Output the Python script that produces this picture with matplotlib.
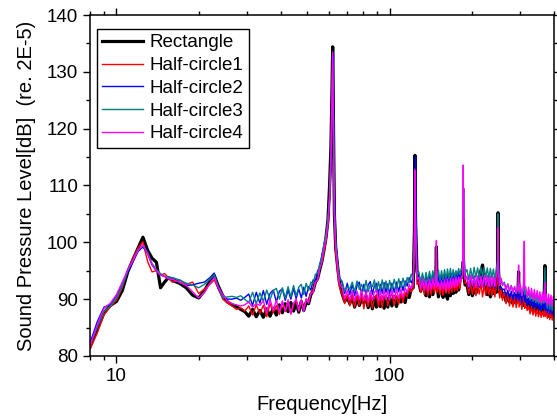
import matplotlib
matplotlib.use("Agg")
import matplotlib.pyplot as plt
from matplotlib.ticker import MultipleLocator, LogLocator, NullFormatter

plt.rcParams["font.family"] = ["Liberation Sans", "DejaVu Sans"]

freq = [
    8, 8.5, 9, 9.5, 10, 10.5, 11, 11.5, 12, 12.5, 13, 13.5, 14, 14.5, 15, 15.5, 16, 17, 18, 19, 20, 21, 22, 22.8, 23.5, 24.5, 25.5, 26.5, 27.5, 28.5, 29.5,
    30.5, 31.5, 32.5, 33.5, 34.5, 35.5, 36.5, 37.5, 38.5, 39.5, 40.5, 41.5, 42.5, 43.5, 44.5, 45.5, 46.5, 47.5, 48.5, 49.5, 50.5, 51.5, 52.5, 53.5, 54.5, 55.5, 56.5, 57.5,
    58.5, 59.5, 60.3, 61.0, 61.5, 61.9, 62.3, 62.8, 63.5, 64.5, 65.5,
    67, 68.5, 70, 71.5, 73, 74.5, 76, 77.5, 79, 80.5, 82, 83.5, 85, 86.5, 88, 89.5, 91, 92.5, 94, 95.5, 97, 98.5, 100, 102, 104, 106, 108, 110, 112, 114, 116, 118, 120,
    122, 123.3, 123.9, 124.5, 126,
    128, 130, 132, 134, 136, 138, 140, 142, 144, 146, 147.6, 148.4, 149.2, 151, 153, 155, 157, 159, 161, 163, 165, 167, 169, 171, 173, 175, 177, 179, 181, 183,
    185, 186.1, 186.7, 187.5, 189,
    192, 195, 198, 201, 204, 207, 210, 213, 216, 219, 222, 225, 228, 231, 234, 237, 240, 243, 246,
    248.6, 249.5, 250.6, 253, 256, 259,
    263, 267, 271, 275, 279, 283, 287, 291, 295, 296.8, 298, 301, 305, 309, 311.4, 312.6,
    315, 319, 323, 327, 331, 335, 339, 343, 347, 351, 355, 359, 363, 367, 370.6, 372,
    374, 378, 382, 386, 390, 394, 398, 400,
]

rectangle = [
    81.6, 84.8, 87.6, 88.9, 89.6, 91.5, 94.8, 97.0, 99.0, 100.9, 98.6, 97.2, 96.5, 92.0, 93.0, 93.8, 93.3, 92.8, 92.0, 90.7, 90.2, 91.5, 93.2, 94.2, 92.5, 90.6, 89.5, 89.0, 88.7, 88.2, 87.8,
    87.0, 88.2, 86.9, 88.0, 86.8, 88.3, 87.0, 88.4, 87.2, 89.0, 87.6, 89.2, 87.8, 89.4, 87.9, 89.3, 87.7, 89.6, 88.0, 89.4, 89.2, 90.8, 91.5, 93.0, 93.6, 95.2, 96.6, 98.6,
    100.8, 104.0, 110.0, 117.0, 126.0, 134.4, 121.0, 105.0, 99.0, 95.8, 93.0,
    91.0, 89.6, 90.3, 89.2, 90.6, 88.6, 90.4, 88.9, 90.1, 89.3, 90.6, 88.5, 90.2, 88.3, 90.3, 88.6, 90.6, 88.7, 90.4, 88.4, 90.3, 88.6, 90.5, 88.8, 90.5, 88.7, 90.3, 89.5, 90.6, 89.4, 91.2, 90.3, 91.8,
    92.0, 102.0, 115.3, 103.0, 95.0,
    93.0, 91.4, 92.6, 91.8, 90.6, 92.6, 90.4, 92.4, 90.8, 92.6, 93.0, 99.2, 92.5, 90.4, 91.8, 92.5, 90.3, 92.8, 90.8, 90.0, 92.6, 90.6, 93.0, 91.0, 93.2, 91.2, 93.4, 91.6, 93.6, 93.8,
    94.6, 96.6, 95.0, 94.0, 92.5,
    92.6, 90.8, 93.0, 90.6, 92.6, 91.0, 93.0, 93.8, 95.0, 96.0, 92.2, 93.0, 90.8, 92.8, 90.4, 92.4, 91.0, 93.0, 91.2,
    96.0, 105.2, 95.0, 91.2, 91.8, 90.4,
    91.0, 89.6, 91.0, 89.5, 90.6, 89.2, 90.8, 89.4, 90.6, 94.8, 90.4, 89.2, 90.8, 88.9, 90.6, 89.6,
    90.0, 88.6, 89.8, 88.2, 89.6, 88.0, 89.4, 87.8, 89.2, 87.6, 89.0, 87.4, 88.8, 87.6, 95.9, 88.9,
    87.6, 88.6, 87.0, 88.4, 86.9, 88.2, 87.2, 87.8,
]

half_circle1 = [
    81.2, 84.0, 87.2, 88.7, 89.8, 92.0, 95.0, 97.3, 99.0, 100.1, 96.6, 94.8, 95.0, 94.2, 94.5, 93.8, 93.0, 93.4, 92.6, 93.0, 91.0, 91.8, 92.6, 93.4, 92.0, 90.0, 89.3, 88.8, 88.2, 88.5, 87.9,
    88.8, 87.2, 89.0, 87.5, 88.9, 86.9, 89.2, 87.6, 88.9, 87.3, 89.4, 87.8, 89.5, 87.4, 89.0, 89.8, 87.9, 89.9, 88.3, 90.0, 89.6, 91.2, 91.6, 93.0, 93.3, 95.5, 96.4, 98.2,
    100.2, 103.2, 108.0, 115.5, 124.5, 133.0, 120.0, 104.0, 98.0, 94.8, 92.2,
    90.9, 89.2, 90.8, 88.8, 90.6, 88.6, 90.5, 88.9, 90.8, 88.3, 90.4, 88.7, 90.7, 88.4, 90.3, 90.8, 88.7, 90.5, 88.5, 90.4, 90.8, 88.8, 90.4, 90.9, 88.9, 90.6, 89.1, 91.0, 89.4, 91.2, 90.4, 91.9, 91.3,
    91.8, 100.0, 113.0, 101.0, 92.6,
    93.0, 91.2, 92.8, 90.8, 92.8, 90.6, 92.6, 90.8, 92.9, 91.0, 92.4, 94.0, 91.2, 92.4, 90.8, 92.2, 90.7, 92.6, 91.0, 92.3, 91.0, 92.6, 91.2, 92.8, 91.4, 92.8, 91.5, 93.0, 91.9, 93.6,
    94.0, 100.0, 104.0, 96.0, 92.8,
    92.8, 91.0, 92.9, 90.8, 92.6, 90.6, 92.5, 90.9, 92.8, 90.4, 92.4, 90.7, 92.6, 90.8, 92.5, 90.6, 92.3, 90.4, 92.4,
    93.0, 98.0, 92.0, 90.2, 91.9, 89.8,
    91.3, 89.2, 91.0, 88.8, 90.7, 88.6, 90.5, 88.5, 90.2, 91.0, 88.6, 90.2, 88.2, 90.0, 90.5, 88.4,
    89.2, 88.0, 88.9, 87.4, 88.7, 87.2, 88.5, 87.0, 88.2, 86.9, 88.1, 86.8, 87.9, 86.9, 89.0, 87.0,
    88.4, 86.6, 88.3, 86.4, 88.0, 86.3, 87.6, 86.9,
]

half_circle2 = [
    82.3, 86.0, 88.6, 89.0, 90.6, 92.5, 94.8, 96.6, 98.4, 99.2, 98.0, 96.0, 95.0, 94.3, 94.0, 93.6, 93.8, 93.0, 92.4, 92.5, 92.8, 93.0, 93.8, 94.6, 92.0, 90.5, 90.0, 90.0, 90.2, 89.8, 90.3,
    90.9, 88.9, 91.2, 89.3, 91.5, 89.1, 91.0, 91.6, 89.5, 91.4, 91.8, 89.8, 91.6, 90.0, 91.9, 90.1, 91.8, 90.2, 92.1, 90.5, 92.2, 91.6, 93.4, 93.2, 95.0, 95.5, 97.8, 99.4,
    101.0, 103.8, 107.5, 113.5, 121.0, 128.0, 133.0, 110.0, 100.5, 96.5, 93.8,
    93.0, 91.0, 92.8, 90.8, 92.6, 90.6, 92.4, 93.0, 90.9, 92.6, 90.7, 92.5, 93.1, 90.8, 92.4, 92.8, 90.9, 92.6, 91.0, 92.9, 91.1, 92.7, 90.9, 92.8, 91.2, 93.0, 91.3, 93.1, 91.5, 93.2, 92.3, 93.8, 92.9,
    93.5, 99.0, 108.0, 115.0, 95.0,
    94.4, 92.4, 94.2, 92.2, 94.0, 92.4, 94.4, 92.6, 94.2, 92.3, 93.5, 94.5, 92.6, 94.3, 92.4, 94.2, 92.6, 94.5, 92.7, 94.4, 92.6, 94.6, 92.9, 94.7, 93.0, 94.8, 93.2, 95.0, 93.4, 94.6,
    94.8, 100.0, 109.5, 98.0, 94.0,
    93.8, 92.0, 94.0, 92.2, 94.1, 92.3, 93.9, 92.1, 94.2, 92.4, 94.0, 92.2, 94.1, 92.3, 93.9, 92.0, 93.8, 92.1, 94.0,
    95.0, 101.0, 94.0, 91.8, 92.2, 91.6,
    91.8, 90.6, 91.6, 90.2, 91.4, 90.0, 91.2, 89.8, 91.0, 92.0, 89.8, 91.4, 89.3, 91.2, 91.5, 89.6,
    90.4, 89.0, 90.2, 88.8, 90.0, 88.6, 89.8, 88.4, 89.6, 88.2, 89.4, 88.0, 89.2, 88.4, 91.0, 88.0,
    89.4, 87.6, 89.2, 87.4, 89.0, 87.2, 88.8, 87.8,
]

half_circle3 = [
    81.9, 85.0, 87.8, 88.8, 90.2, 92.3, 95.0, 96.9, 98.7, 99.4, 98.2, 96.3, 95.2, 94.5, 94.0, 93.9, 93.8, 93.4, 92.8, 92.5, 92.0, 92.6, 93.5, 94.3, 92.4, 90.2, 90.4, 90.5, 90.3, 90.6, 90.0,
    89.4, 91.2, 89.2, 91.1, 89.6, 91.6, 89.9, 91.5, 91.9, 90.0, 92.0, 90.2, 92.2, 90.4, 92.4, 90.6, 92.1, 92.6, 90.8, 92.8, 91.5, 93.0, 92.8, 94.4, 94.5, 96.3, 97.4, 99.6,
    101.4, 104.2, 108.0, 114.5, 123.0, 131.0, 122.0, 106.0, 100.0, 96.4, 93.6,
    93.2, 91.4, 92.2, 91.8, 93.0, 91.3, 93.2, 91.7, 92.6, 91.4, 93.3, 91.3, 92.6, 92.2, 93.4, 91.2, 93.1, 91.5, 93.4, 91.7, 93.2, 91.4, 93.3, 91.7, 93.5, 91.8, 93.6, 92.0, 93.7, 92.2, 93.8, 92.9, 94.4,
    93.6, 100.0, 111.0, 104.0, 94.2,
    94.8, 93.0, 94.6, 92.8, 94.7, 93.1, 94.9, 93.2, 95.0, 93.3, 94.2, 95.0, 93.4, 95.1, 93.3, 95.0, 93.4, 95.2, 93.5, 95.3, 93.6, 95.4, 93.7, 95.2, 93.9, 95.0, 94.2, 95.4, 94.3, 95.4,
    95.4, 99.0, 104.0, 97.0, 94.6,
    95.2, 93.4, 95.4, 93.6, 95.6, 93.8, 95.5, 93.7, 95.6, 94.0, 95.6, 93.8, 95.5, 93.6, 95.4, 93.7, 95.3, 93.5, 95.2,
    97.0, 105.0, 96.0, 93.0, 93.6, 92.4,
    93.0, 91.8, 92.7, 91.5, 92.4, 91.2, 92.2, 91.0, 92.0, 93.0, 91.0, 92.5, 90.6, 92.3, 93.0, 90.8,
    91.6, 90.1, 91.3, 89.8, 91.0, 89.6, 90.8, 89.4, 90.6, 89.2, 90.4, 89.0, 90.2, 89.4, 95.5, 89.4,
    90.2, 88.4, 90.0, 88.2, 89.9, 88.0, 89.6, 88.8,
]

half_circle4 = [
    81.8, 85.5, 88.4, 89.3, 90.8, 93.0, 95.2, 96.8, 98.6, 99.6, 98.0, 96.1, 95.0, 94.2, 94.0, 93.6, 93.5, 93.0, 92.4, 91.3, 90.2, 91.2, 92.8, 93.8, 92.2, 90.8, 89.6, 89.2, 89.0, 88.8, 89.0,
    89.5, 88.6, 89.2, 88.9, 89.7, 87.6, 90.0, 88.0, 89.8, 87.7, 89.7, 87.9, 89.9, 87.4, 89.3, 90.0, 88.0, 89.8, 87.8, 90.1, 89.3, 91.0, 91.2, 93.0, 93.4, 95.3, 96.6, 98.8,
    100.6, 103.5, 107.8, 115.0, 124.8, 133.5, 121.5, 105.0, 99.2, 95.6, 92.8,
    92.0, 90.0, 91.6, 89.8, 91.5, 89.6, 91.4, 89.9, 91.6, 89.7, 91.3, 89.5, 91.5, 89.8, 91.2, 91.6, 89.7, 91.4, 89.8, 91.6, 89.9, 91.5, 89.8, 91.6, 90.0, 91.7, 90.1, 91.8, 90.3, 92.0, 91.1, 92.6, 91.8,
    92.8, 100.5, 112.7, 102.5, 93.5,
    93.8, 91.8, 93.6, 91.6, 93.4, 91.4, 93.5, 91.7, 93.7, 91.9, 93.4, 100.3, 92.2, 93.0, 91.6, 93.2, 91.8, 93.4, 91.4, 93.5, 91.8, 93.6, 92.0, 93.7, 92.1, 93.9, 92.3, 93.9, 92.8, 93.8,
    94.2, 113.6, 104.0, 96.0, 93.5,
    94.0, 92.2, 94.2, 92.4, 93.9, 92.0, 94.1, 92.3, 94.0, 92.1, 94.2, 92.4, 94.0, 92.2, 94.1, 92.3, 93.9, 92.2, 94.1,
    95.0, 102.7, 94.5, 92.4, 93.7, 92.5,
    92.8, 91.6, 92.6, 91.4, 92.4, 91.2, 92.2, 91.0, 92.1, 96.0, 91.4, 92.6, 90.6, 91.8, 100.2, 92.0,
    92.2, 90.4, 92.1, 90.2, 91.9, 90.0, 91.7, 89.8, 91.5, 89.6, 91.3, 89.4, 91.2, 89.3, 93.0, 89.8,
    90.8, 89.0, 90.9, 88.9, 90.7, 88.8, 90.5, 89.8,
]

fig = plt.figure(figsize=(5.57, 4.19), dpi=100)
ax = fig.add_axes([0.1616, 0.1504, 0.8330, 0.8138])

ax.plot(freq, rectangle, color="black", lw=2.3, label="Rectangle")
ax.plot(freq, half_circle1, color="#ff0000", lw=1.0, label="Half-circle1")
ax.plot(freq, half_circle2, color="#0000ff", lw=1.0, label="Half-circle2")
ax.plot(freq, half_circle3, color="#008080", lw=1.0, label="Half-circle3")
ax.plot(freq, half_circle4, color="#ff00ff", lw=1.0, label="Half-circle4")

ax.set_xscale("log")
ax.set_xlim(8, 400)
ax.set_ylim(80, 140)
ax.set_xticks([10, 100])
ax.set_xticklabels(["10", "100"])
ax.xaxis.set_minor_locator(LogLocator(base=10, subs=(2, 3, 4, 5, 6, 7, 8, 9)))
ax.xaxis.set_minor_formatter(NullFormatter())
ax.yaxis.set_major_locator(MultipleLocator(10))
ax.yaxis.set_minor_locator(MultipleLocator(5))

ax.tick_params(which="both", direction="out", top=True, right=True, labelsize=13.5, width=1)
ax.tick_params(which="major", length=5)
ax.tick_params(which="minor", length=3)
for s in ax.spines.values():
    s.set_linewidth(1.1)

ax.set_xlabel("Frequency[Hz]", fontsize=14.5, labelpad=7)
ax.set_ylabel("Sound Pressure Level[dB]  (re. 2E-5)", fontsize=14.5, labelpad=8)

leg = ax.legend(loc="upper left", bbox_to_anchor=(0.014, 0.96), fontsize=13.5,
                frameon=True, fancybox=False, framealpha=1, edgecolor="black",
                handlelength=2.2, handletextpad=0.3, labelspacing=0.3, borderpad=0.3,
                borderaxespad=0)
leg.get_frame().set_linewidth(1.0)

fig.savefig("out.png", dpi=100)
